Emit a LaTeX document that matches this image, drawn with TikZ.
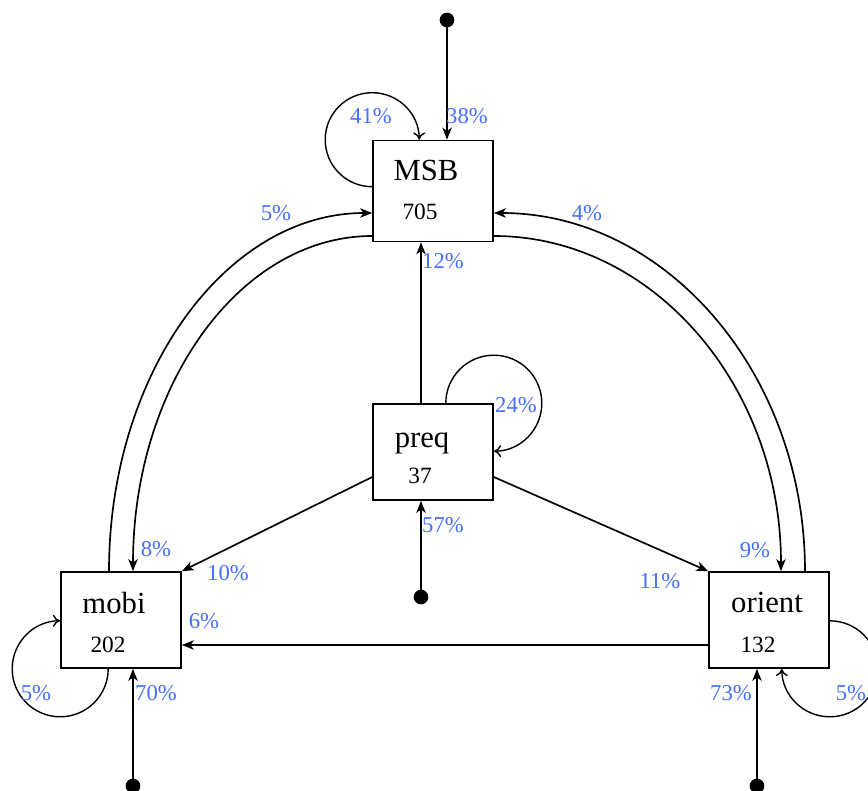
\documentclass[tikz,border=0pt]{standalone}
\usepackage{fontspec}
\setmainfont{Liberation Serif}
\usetikzlibrary{arrows.meta,calc}
\definecolor{lblue}{RGB}{68,110,255}
\tikzset{
  box/.style={draw,line width=1.2pt,minimum width=90pt,minimum height=72pt,inner sep=0pt},
  nname/.style={anchor=base,font=\fontsize{23}{26}\selectfont,inner sep=0pt},
  nnum/.style={anchor=base,font=\fontsize{17.5}{20}\selectfont,inner sep=0pt},
  lbl/.style={text=lblue,font=\fontsize{17}{20}\selectfont,inner sep=0pt},
  startdot/.style={circle,fill=black,minimum size=11pt,inner sep=0pt},
  main/.style={line width=1.25pt,-{Stealth[length=9pt,width=7pt,inset=2.5pt]}},
  selfloop/.style={line width=1.05pt,-{To[length=5.5pt,width=9pt]}}
}
\begin{document}
\begin{tikzpicture}[x=0.75pt,y=-0.75pt]
\useasboundingbox (0,0) rectangle (868,791);
\clip (0,0) rectangle (868,791);
% boxes
\node[box,minimum height=75.75pt] (msb) at (433,191) {};
\node[box] (preq) at (433,452) {};
\node[box] (mobi) at (121,620) {};
\node[box] (orient) at (769,620) {};
% texts
\node[nname] (msbname) at (426,181) {MSB};
\node[nnum] (msbnum) at (420,220) {705};
\node[nname] (preqname) at (422,448) {preq};
\node[nnum] (preqnum) at (420,484) {37};
\node[nname] (mobiname) at (114,613) {mobi};
\node[nnum] (mobinum) at (108,652) {202};
\node[nname] (orientname) at (767,612) {orient};
\node[nnum] (orientnum) at (758,652) {132};
% start dots
\node[startdot] (s1) at (447,20) {};
\node[startdot] (s2) at (421,597) {};
\node[startdot] (s3) at (133,786) {};
\node[startdot] (s4) at (757,786) {};
\draw[main] (s1.center) -- (s1 |- msb.north);
\draw[main] (s2.center) -- (s2 |- preq.south);
\draw[main] (s3.center) -- (s3 |- mobi.south);
\draw[main] (s4.center) -- (s4 |- orient.south);
% straight edges
\draw[main] ($(preq.north)+(-12,0)$) -- ($(msb.south)+(-12,0)$);
\draw[main] ($(preq.west)+(0,25)$) -- (mobi.north east);
\draw[main] ($(preq.east)+(0,25)$) -- (orient.north west);
\draw[main] ($(orient.west)+(0,25)$) -- ($(mobi.east)+(0,25)$);
% arcs
\draw[main] ($(mobi.north)+(-12,0)$) .. controls +(0,-198) and +(-146,0) .. ($(msb.west)+(0,22)$);
\draw[main] ($(msb.west)+(0,45)$) .. controls +(-132.6,0) and +(0,-185.6) .. ($(mobi.north)+(12,0)$);
\draw[main] ($(orient.north)+(36,0)$) .. controls +(0,-198) and +(172,0) .. ($(msb.east)+(0,22)$);
\draw[main] ($(msb.east)+(0,45)$) .. controls +(159,0) and +(0,-185.6) .. ($(orient.north)+(12,0)$);
% self loops
\draw[selfloop] ($(msb.north west)+(0,47)$) .. controls +(-26,0) and +(0,26) .. ($(msb.north west)+(-47,0)$)
  .. controls +(0,-26) and +(-26,0) .. ($(msb.north west)+(0,-47)$)
  .. controls +(26,0) and +(0,-26) .. ($(msb.north west)+(47,0)$);
\draw[selfloop] ($(preq.north east)+(-48,0)$) .. controls +(0,-26.5) and +(-26.5,0) .. ($(preq.north east)+(0,-48)$)
  .. controls +(26.5,0) and +(0,-26.5) .. ($(preq.north east)+(48,0)$)
  .. controls +(0,26.5) and +(26.5,0) .. ($(preq.north east)+(0,48)$);
\draw[selfloop] ($(mobi.south west)+(48,0)$) .. controls +(0,26.5) and +(26.5,0) .. ($(mobi.south west)+(0,48)$)
  .. controls +(-26.5,0) and +(0,26.5) .. ($(mobi.south west)+(-48,0)$)
  .. controls +(0,-26.5) and +(-26.5,0) .. ($(mobi.south west)+(0,-48)$);
\draw[selfloop] ($(orient.south east)+(0,-48)$) .. controls +(26.5,0) and +(0,-26.5) .. ($(orient.south east)+(48,0)$)
  .. controls +(0,26.5) and +(26.5,0) .. ($(orient.south east)+(0,48)$)
  .. controls +(-26.5,0) and +(0,26.5) .. ($(orient.south east)+(-48,0)$);
% labels
\node[lbl] (l38) at (467,116) {38\%};
\node[lbl] (l41) at (371,116) {41\%};
\node[lbl] (l12) at (443,261) {12\%};
\node[lbl] (l5a) at (276,213) {5\%};
\node[lbl] (l4) at (587,213) {4\%};
\node[lbl] (l24) at (516,405) {24\%};
\node[lbl] (l57) at (443,525) {57\%};
\node[lbl] (l8) at (156,549) {8\%};
\node[lbl] (l9) at (755,550) {9\%};
\node[lbl] (l10) at (228,573) {10\%};
\node[lbl] (l11) at (660,581) {11\%};
\node[lbl] (l6) at (204,621) {6\%};
\node[lbl] (l5b) at (36,693) {5\%};
\node[lbl] (l70) at (156,693) {70\%};
\node[lbl] (l73) at (731,693) {73\%};
\node[lbl] (l5c) at (851,693) {5\%};
\end{tikzpicture}
\end{document}
